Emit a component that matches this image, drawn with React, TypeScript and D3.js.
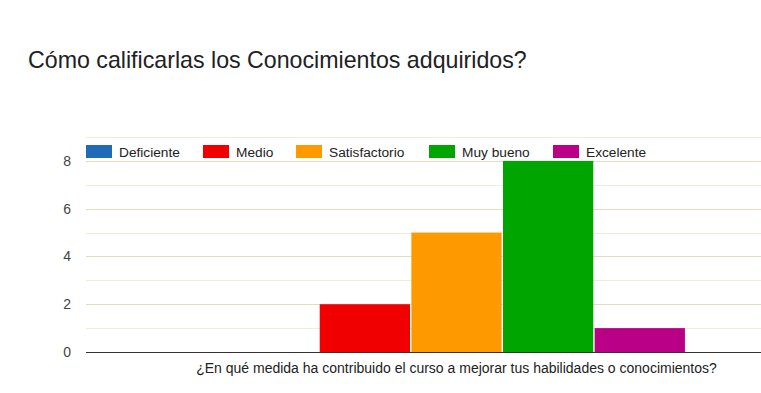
import * as d3 from "d3";
import { useEffect, useRef } from "react";

const question = "¿En qué medida ha contribuido el curso a mejorar tus habilidades o conocimientos?";
const categories = ["Deficiente", "Medio", "Satisfactorio", "Muy bueno", "Excelente"];
const counts = [0, 2, 5, 8, 1];
const colors = ["#1f6bb8", "#f00000", "#ff9900", "#00a500", "#bb0088"];
const yTicks = [0, 2, 4, 6, 8];

export default function App() {
  const svgRef = useRef<SVGSVGElement>(null);

  useEffect(() => {
    if (!svgRef.current) return;
    const svg = d3.select<SVGSVGElement, unknown>(svgRef.current);
    svg.selectAll("*").remove();

    const width = 761;
    const height = 393;
    const left = 86;
    const right = 761;
    const top = 137;
    const bottom = 352;
    const font = "Arial, 'Liberation Sans', sans-serif";

    svg.append("rect").attr("width", width).attr("height", height).attr("fill", "#fff");

    // Title
    svg
      .append("text")
      .attr("x", 28)
      .attr("y", 68)
      .attr("font-family", font)
      .attr("font-size", 23.2)
      .attr("fill", "#202124")
      .text("Cómo calificarlas los Conocimientos adquiridos?");

    const y = d3.scaleLinear().domain([0, 9]).range([bottom, top]);

    // outer band: the question (chart area extends past the visible right edge)
    const x0 = d3.scaleBand().domain([question]).range([left, 827]).paddingInner(0).paddingOuter(0.311);
    const x1 = d3.scaleBand().domain(categories).range([0, x0.bandwidth()]).paddingInner(0.015);

    // gridlines
    const grid = svg.append("g");
    grid
      .selectAll("line")
      .data(d3.range(1, 10))
      .enter()
      .append("line")
      .attr("x1", left)
      .attr("x2", right)
      .attr("y1", (d) => Math.round(y(d)) + 0.5)
      .attr("y2", (d) => Math.round(y(d)) + 0.5)
      .attr("stroke", (d) => (d % 2 === 0 ? "#e2dcc0" : "#efecd8"))
      .attr("stroke-width", 1);

    // bars
    const g = svg.append("g").attr("transform", `translate(${x0(question)},0)`);
    g.selectAll("rect")
      .data(categories.map((c, i) => ({ c, v: counts[i], color: colors[i] })))
      .enter()
      .append("rect")
      .attr("x", (d) => x1(d.c)!)
      .attr("width", x1.bandwidth())
      .attr("y", (d) => y(d.v))
      .attr("height", (d) => bottom - y(d.v))
      .attr("fill", (d) => d.color);

    // baseline
    svg
      .append("line")
      .attr("x1", left)
      .attr("x2", right)
      .attr("y1", bottom + 0.5)
      .attr("y2", bottom + 0.5)
      .attr("stroke", "#333");

    // y tick labels
    svg
      .append("g")
      .selectAll("text")
      .data(yTicks)
      .enter()
      .append("text")
      .attr("x", 71)
      .attr("y", (d) => y(d) + 5)
      .attr("text-anchor", "end")
      .attr("font-family", font)
      .attr("font-size", 14)
      .attr("fill", "#444")
      .text((d) => d);

    // x label
    svg
      .append("text")
      .attr("x", x0(question)! + x0.bandwidth() / 2)
      .attr("y", 373)
      .attr("text-anchor", "middle")
      .attr("font-family", font)
      .attr("font-size", 14)
      .attr("fill", "#222")
      .text(question);

    // legend
    const legendX = [86, 203, 296, 429, 553];
    const lg = svg
      .append("g")
      .selectAll("g")
      .data(categories)
      .enter()
      .append("g")
      .attr("transform", (_d, i) => `translate(${legendX[i]},145)`);
    lg.append("rect")
      .attr("width", 26)
      .attr("height", 13)
      .attr("fill", (_d, i) => colors[i]);
    lg.append("text")
      .attr("x", 33)
      .attr("y", 11.5)
      .attr("font-family", font)
      .attr("font-size", 13.7)
      .attr("fill", "#222")
      .text((d) => d);
  }, []);

  return (
    <svg
      ref={svgRef}
      width={761}
      height={393}
      style={{ position: "absolute", left: 0, top: 0, display: "block" }}
    />
  );
}
